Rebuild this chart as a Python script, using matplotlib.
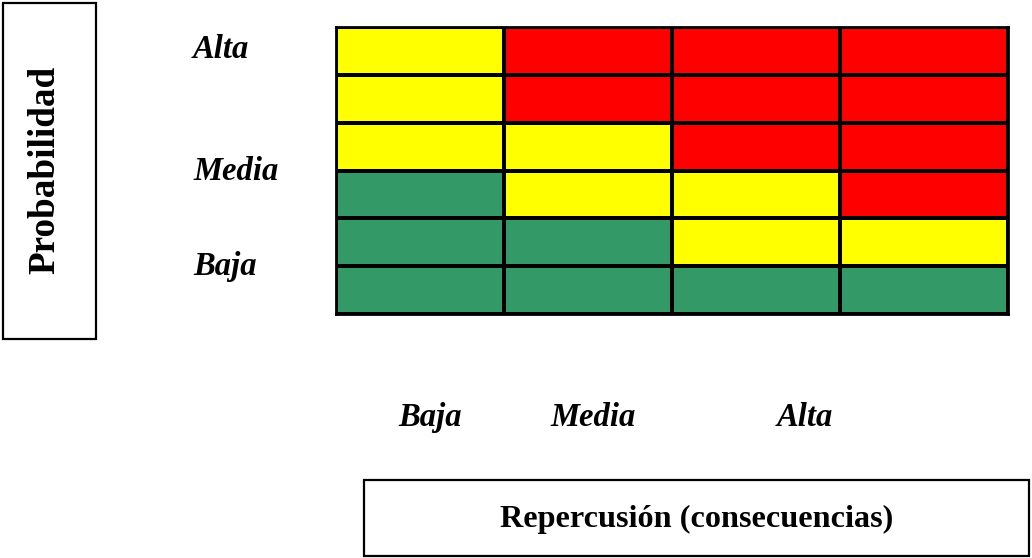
import numpy as np
import matplotlib
matplotlib.use("Agg")
import matplotlib.pyplot as plt
from matplotlib.colors import ListedColormap, BoundaryNorm
from matplotlib.patches import Rectangle

# ── Data ──────────────────────────────────────────────────────────────────────
# risk level per cell: 0 = bajo (verde), 1 = medio (amarillo), 2 = alto (rojo)
# rows from top (alta probabilidad) to bottom (baja probabilidad)
RISK = [
    [1, 2, 2, 2],
    [1, 2, 2, 2],
    [1, 1, 2, 2],
    [0, 1, 1, 2],
    [0, 0, 1, 1],
    [0, 0, 0, 0],
]
LEVEL_COLORS = ["#339966", "#FFFF00", "#FF0000"]
ROW_LABELS = ["Alta", "Media", "Baja"]
COL_LABELS = ["Baja", "Media", "Alta"]
Y_TITLE = "Probabilidad"
X_TITLE = "Repercusión (consecuencias)"

W, H = 1032, 558
SERIF = ["Liberation Serif", "DejaVu Serif"]

fig = plt.figure(figsize=(W / 100, H / 100), dpi=100)

# overlay in pixel coordinates for labels and boxes
ov = fig.add_axes([0, 0, 1, 1])
ov.set_xlim(0, W)
ov.set_ylim(H, 0)
ov.axis("off")

# ── Grid ──────────────────────────────────────────────────────────────────────
gx0, gx1, gy0, gy1 = 336, 1008, 27, 314
ax = fig.add_axes([gx0 / W, 1 - gy1 / H, (gx1 - gx0) / W, (gy1 - gy0) / H])
risk = np.array(RISK)
cmap = ListedColormap(LEVEL_COLORS)
norm = BoundaryNorm([-0.5, 0.5, 1.5, 2.5], cmap.N)
ax.pcolormesh(risk, cmap=cmap, norm=norm, edgecolors="black", linewidth=1.7)
ax.set_xlim(0, risk.shape[1])
ax.set_ylim(risk.shape[0], 0)
ax.set_xticks([])
ax.set_yticks([])
for sp in ax.spines.values():
    sp.set_linewidth(2.0)
    sp.set_color("black")

# ── Labels ────────────────────────────────────────────────────────────────────
lab_kw = dict(family=SERIF, fontsize=23.5, fontweight="bold", fontstyle="italic",
              color="black")
for label, y in zip(ROW_LABELS, [58, 180, 275]):
    ov.text(193, y, label, ha="left", va="baseline", **lab_kw)
for label, x in zip(COL_LABELS, [398, 550, 777]):
    ov.text(x, 426, label, ha="left", va="baseline", **lab_kw)

# Probabilidad box
ov.add_patch(Rectangle((3, 3), 93, 336, fill=False, edgecolor="black", linewidth=1.6))
ov.text(45, 170, Y_TITLE, rotation=90, ha="center", va="center",
        family=SERIF, fontsize=26.7, fontweight="bold")

# Repercusión box
ov.add_patch(Rectangle((364, 480), 665, 76, fill=False, edgecolor="black", linewidth=1.6))
ov.text(697, 519, X_TITLE, ha="center", va="center",
        family=SERIF, fontsize=23.2, fontweight="bold")

fig.savefig("out.png", dpi=100)
